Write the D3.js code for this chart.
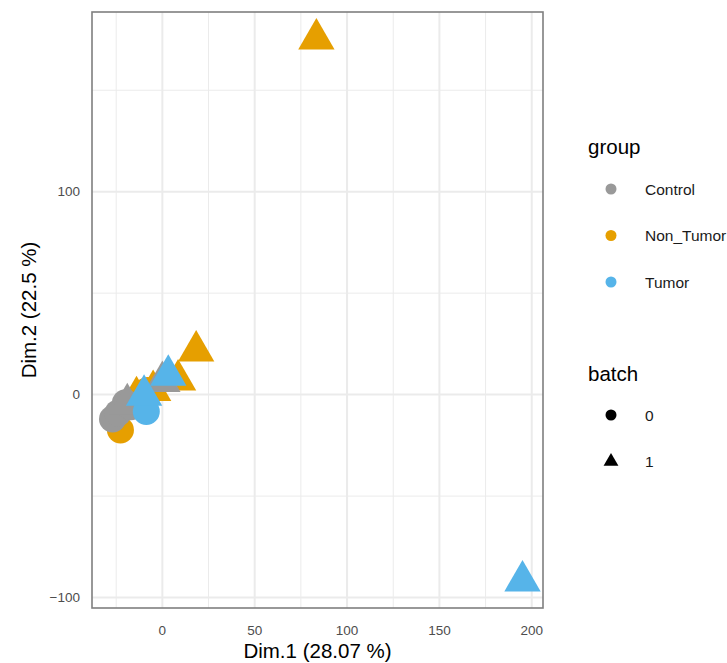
<!DOCTYPE html>
<html><head><meta charset="utf-8">
<script src="https://cdn.jsdelivr.net/npm/d3@7"></script>
<style>body{margin:0;background:#fff;} svg{font-family:"Liberation Sans",Arial,sans-serif;}</style>
</head><body><div id="chart"></div>
<script>
// Data
const groups = ["Control","Non_Tumor","Tumor"];
const groupColors = ["#999999","#E69F00","#56B4E9"];
const batches = ["0","1"];
const drawOrder = ["Non_Tumor","Control","Tumor"];
const sampleGroup = ["Non_Tumor","Non_Tumor","Non_Tumor","Non_Tumor","Non_Tumor","Non_Tumor","Non_Tumor",
  "Control","Control","Control","Control","Control","Control",
  "Tumor","Tumor","Tumor","Tumor"];
const sampleBatch = ["0","0","1","1","1","1","1",
  "0","0","0","0","1","1",
  "0","1","1","1"];
const dim1 = [-22.7,-8,83.4,18.3,8.5,-5,-14,
  -27,-24,-20,-17,-19,0,
  -8.7,195,3.2,-9.9];
const dim2 = [-17.4,2,175.2,21.5,7.2,2,-1,
  -12,-9,-4,-6,-4.5,6.5,
  -8.3,-91.8,9.5,-0.3];
const xTicks = [0,50,100,150,200];
const yTicks = [-100,0,100];
const xMinor = [-25,25,75,125,175];
const yMinor = [-50,50,150];

const W=727,H=663;
const svg=d3.select("#chart").append("svg").attr("width",W).attr("height",H);
const P={l:92,r:543,t:12,b:608};
const xExt=d3.extent(dim1), yExt=d3.extent(dim2);
const xPad=(xExt[1]-xExt[0])*0.05, yPad=(yExt[1]-yExt[0])*0.05;
const x=d3.scaleLinear().domain([xExt[0]-xPad,xExt[1]+xPad]).range([P.l,P.r]);
const y=d3.scaleLinear().domain([yExt[0]-yPad,yExt[1]+yPad]).range([P.b,P.t]);
const color=d3.scaleOrdinal().domain(groups).range(groupColors);

const g=svg.append("g");
// minor grid
g.selectAll(".mx").data(xMinor).enter().append("line").attr("x1",d=>x(d)).attr("x2",d=>x(d)).attr("y1",P.t).attr("y2",P.b).attr("stroke","#ebebeb").attr("stroke-width",1);
g.selectAll(".my").data(yMinor).enter().append("line").attr("y1",d=>y(d)).attr("y2",d=>y(d)).attr("x1",P.l).attr("x2",P.r).attr("stroke","#ebebeb").attr("stroke-width",1);
g.selectAll(".Mx").data(xTicks).enter().append("line").attr("x1",d=>x(d)).attr("x2",d=>x(d)).attr("y1",P.t).attr("y2",P.b).attr("stroke","#ebebeb").attr("stroke-width",2);
g.selectAll(".My").data(yTicks).enter().append("line").attr("y1",d=>y(d)).attr("y2",d=>y(d)).attr("x1",P.l).attr("x2",P.r).attr("stroke","#ebebeb").attr("stroke-width",2);

// points
const rC=13.5, rT=rC*1.5551;
const circleSym=d3.symbol().type(d3.symbolCircle).size(Math.PI*rC*rC);
function triPath(r){const xc=r*Math.sqrt(3)/2, yc=r/2;return `M0,${-r}L${xc},${yc}L${-xc},${yc}Z`;}
const pts=dim1.map((d,i)=>({x:d,y:dim2[i],g:sampleGroup[i],b:sampleBatch[i]}));
pts.sort((a,b)=>drawOrder.indexOf(a.g)-drawOrder.indexOf(b.g));
g.selectAll(".pt").data(pts).enter().append("path")
  .attr("transform",d=>`translate(${x(d.x)},${y(d.y)})`)
  .attr("d",d=>d.b==="0"?circleSym():triPath(rT))
  .attr("fill",d=>color(d.g));

// border
g.append("rect").attr("x",P.l).attr("y",P.t).attr("width",P.r-P.l).attr("height",P.b-P.t).attr("fill","none").attr("stroke","#7f7f7f").attr("stroke-width",1.6);

// tick labels
svg.selectAll(".xl").data(xTicks).enter().append("text").attr("x",d=>x(d)).attr("y",635).attr("text-anchor","middle").attr("font-size",13.5).attr("fill","#4d4d4d").text(d=>d);
svg.selectAll(".yl").data(yTicks).enter().append("text").attr("x",80).attr("y",d=>y(d)+4.8).attr("text-anchor","end").attr("font-size",13.5).attr("fill","#4d4d4d").text(d=>d<0?"\u2212"+Math.abs(d):d);
// axis titles
svg.append("text").attr("x",(P.l+P.r)/2).attr("y",658).attr("text-anchor","middle").attr("font-size",20.5).attr("fill","#000").text("Dim.1 (28.07 %)");
svg.append("text").attr("transform",`translate(36,${(P.t+P.b)/2}) rotate(-90)`).attr("text-anchor","middle").attr("font-size",20.5).attr("fill","#000").text("Dim.2 (22.5 %)");

// legends
svg.append("text").attr("x",588).attr("y",154).attr("font-size",20.5).attr("fill","#000").text("group");
const lg=svg.selectAll(".lg").data(groups).enter().append("g").attr("transform",(d,i)=>`translate(611,${189+i*46.5})`);
lg.append("circle").attr("r",5.5).attr("fill",d=>color(d));
lg.append("text").attr("x",34).attr("y",5.5).attr("font-size",15.5).attr("fill","#1a1a1a").text(d=>d);
svg.append("text").attr("x",588).attr("y",381).attr("font-size",20.5).attr("fill","#000").text("batch");
const lb=svg.selectAll(".lb").data(batches).enter().append("g").attr("transform",(d,i)=>`translate(611,${415+i*46.5})`);
lb.append("path").attr("d",d=>d==="0"?d3.symbol().type(d3.symbolCircle).size(Math.PI*5.5*5.5)():triPath(5.5*1.5551)).attr("fill","#000");
lb.append("text").attr("x",34).attr("y",5.5).attr("font-size",15.5).attr("fill","#1a1a1a").text(d=>d);
</script></body></html>
